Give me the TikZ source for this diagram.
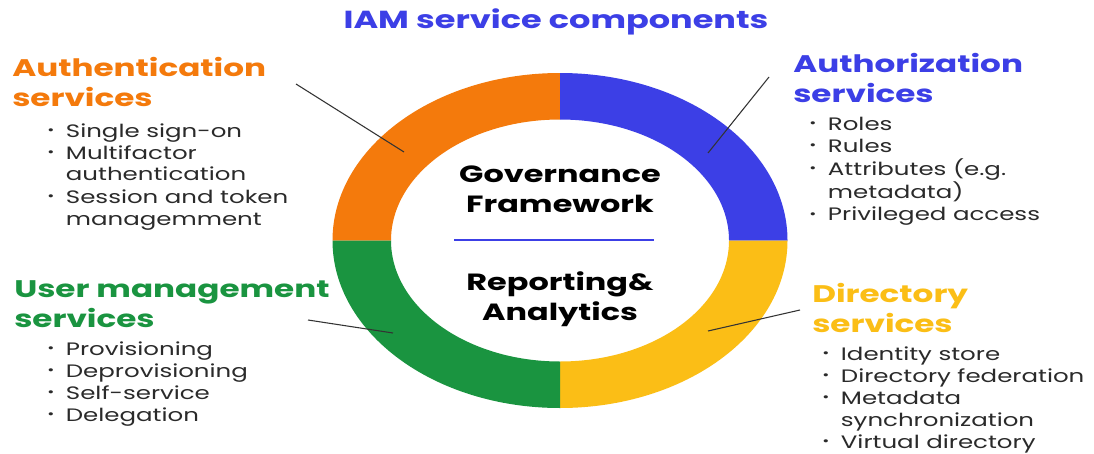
\documentclass[tikz,border=0pt]{standalone}
\usepackage{fontspec}
\setmainfont{Poppins}[FakeStretch=1.36]

\definecolor{authC}{HTML}{F47A0C}
\definecolor{authzC}{HTML}{3C3FE6}
\definecolor{userC}{HTML}{1A9440}
\definecolor{dirC}{HTML}{FBBE16}
\definecolor{textC}{HTML}{2A2A2A}
\definecolor{lineC}{HTML}{333333}

% bullet and hanging indent for the lists
\newcommand{\itm}{\makebox[14pt][l]{\raisebox{0.25ex}{\scalebox{0.7}{\textbullet}}}}
\newcommand{\gap}{\hspace*{14pt}}

\tikzset{
	head/.style={anchor=base west, inner sep=0pt, font=\fontsize{18}{22.5}\selectfont\bfseries},
	items/.style={anchor=base west, inner sep=0pt, text=textC, font=\fontsize{13.5}{16.5}\selectfont},
	hub/.style={anchor=base, inner sep=0pt, text=black, font=\fontsize{17.6}{22.5}\selectfont\bfseries},
	pointer/.style={draw=lineC, line width=0.8pt}
}

\begin{document}
\begin{tikzpicture}[x=0.75pt, y=-0.75pt]
	\fill[white] (0,0) rectangle (1094,453);
	\useasboundingbox (0,0) rectangle (1094,453);

	% ring of four quarters
	\coordinate (ring) at (560,240.5);
	\begin{scope}[shift={(ring)}]
		\foreach \a/\c in {180/authC, 270/authzC, 0/dirC, 90/userC}
			\fill[\c] (\a:227.5 and 167.5) arc[start angle=\a, delta angle=90, x radius=227.5, y radius=167.5]
				-- (\a+90:169 and 121) arc[start angle=\a+90, delta angle=-90, x radius=169, y radius=121] -- cycle;
	\end{scope}

	\node (title) at (556,29) [anchor=base, inner sep=0pt, text=authzC, font=\fontsize{18.5}{22}\selectfont\bfseries] {IAM service components};

	% centre
	\node (gov) at (560,182) [hub] {\begin{tabular}[t]{@{}c@{}}Governance\\ Framework\end{tabular}};
	\draw[authzC, line width=1.5pt] (454,240) -- (654,240);
	\node (rep) at (560,290) [hub] {\begin{tabular}[t]{@{}c@{}}Reporting\&\\ Analytics\end{tabular}};

	% headings
	\node (authHead) at (12,76) [head, text=authC] {\begin{tabular}[t]{@{}l@{}}Authentication\\ services\end{tabular}};
	\node (authzHead) at (793,72) [head, text=authzC] {\begin{tabular}[t]{@{}l@{}}Authorization\\ services\end{tabular}};
	\node (userHead) at (14,297) [head, text=userC] {\begin{tabular}[t]{@{}l@{}}User management\\ services\end{tabular}};
	\node (dirHead) at (812,302) [head, text=dirC] {\begin{tabular}[t]{@{}l@{}}Directory\\ services\end{tabular}};

	% lists
	\node (authList) at (47,137) [items] {\begin{tabular}[t]{@{}l@{}}
		\itm Single sign-on\\ \itm Multifactor\\ \gap authentication\\ \itm Session and token\\ \gap managemment\end{tabular}};
	\node (authzList) at (809,130) [items] {\begin{tabular}[t]{@{}l@{}}
		\itm Roles\\ \itm Rules\\ \itm Attributes (e.g.\\ \gap metadata)\\ \itm Privileged access\end{tabular}};
	\node (userList) at (47,355) [items] {\begin{tabular}[t]{@{}l@{}}
		\itm Provisioning\\ \itm Deprovisioning\\ \itm Self-service\\ \itm Delegation\end{tabular}};
	\node (dirList) at (822,360) [items] {\begin{tabular}[t]{@{}l@{}}
		\itm Identity store\\ \itm Directory federation\\ \itm Metadata\\ \gap synchronization\\ \itm Virtual directory\end{tabular}};

	% pointers from headings to the ring
	\coordinate (authEnd) at (296,84);
	\coordinate (authTip) at (404,152);
	\coordinate (authzEnd) at (769,77);
	\coordinate (authzTip) at (708,153);
	\coordinate (userEnd) at (308,320);
	\coordinate (userTip) at (393,333);
	\coordinate (dirEnd) at (800,310);
	\coordinate (dirTip) at (708,331);
	\draw[pointer] (authEnd) -- (authTip);
	\draw[pointer] (authzEnd) -- (authzTip);
	\draw[pointer] (userEnd) -- (userTip);
	\draw[pointer] (dirEnd) -- (dirTip);
\end{tikzpicture}
\end{document}
